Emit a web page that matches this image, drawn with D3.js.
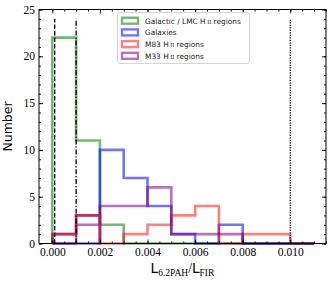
<!DOCTYPE html>
<meta charset="utf-8">
<script src="https://d3js.org/d3.v7.min.js"></script>
<style>
  body { margin: 0; background: #fff; }
  svg text { fill: #000; }
</style>
<div id="my_dataviz"></div>
<script>

// bin edges of the histograms
var binEdges = [0, 0.001, 0.002, 0.003, 0.004, 0.005, 0.006, 0.007, 0.008, 0.009, 0.010, 0.011];

// counts per bin
var galacticCounts = [22, 11, 2, 0, 0, 0, 0, 0, 0, 0, 0];
var galaxyCounts   = [0, 0, 10, 7, 4, 1, 0, 2, 0, 0, 0];
var m83Counts      = [1, 3, 0, 1, 2, 3, 4, 0, 1, 1, 0];
var m33Counts      = [0, 2, 4, 4, 6, 1, 1, 1, 0, 0, 0];
// darker overlap seen in the first two bins
var overlapEdges   = [0, 0.001, 0.002];
var overlapCounts  = [1, 3];

var seriesNames  = ["Galactic / LMC H", "Galaxies", "M83 H", "M33 H"];
var seriesSuffix = [" regions", "", " regions", " regions"];
var seriesRoman  = [true, false, true, true];

// vertical reference lines
var refLines = [0.0001, 0.001, 0.010];
var refTop = 24;

var xTicks = [0, 0.002, 0.004, 0.006, 0.008, 0.010];
var yTicks = [0, 5, 10, 15, 20, 25];

var margin = {top: 9.5, right: 8, bottom: 39.5, left: 39},
  width = 334 - margin.left - margin.right,
  height = 283 - margin.top - margin.bottom;

var svg = d3.select("#my_dataviz")
  .append("svg")
    .attr("width", 334)
    .attr("height", 283)
  .append("g")
    .attr("transform", "translate(" + margin.left + "," + margin.top + ")");

var x = d3.scaleLinear().domain([-0.00056, 0.0115]).range([0, width]);
var y = d3.scaleLinear().domain([0, 25]).range([height, 0]);

var series = [
  {edges: binEdges, counts: galacticCounts, color: "green",  op: 0.55},
  {edges: binEdges, counts: galaxyCounts,   color: "blue",   op: 0.55},
  {edges: binEdges, counts: m83Counts,      color: "red",    op: 0.5},
  {edges: binEdges, counts: m33Counts,      color: "purple", op: 0.55},
  {edges: overlapEdges, counts: overlapCounts, color: "#b01d5c", op: 0.8}
];

function stepPoints(edges, counts) {
  var pts = [[edges[0], 0]];
  counts.forEach(function(c, i) {
    pts.push([edges[i], c]);
    pts.push([edges[i + 1], c]);
  });
  pts.push([edges[edges.length - 1], 0]);
  return pts;
}

var line = d3.line()
  .x(function(d) { return x(d[0]); })
  .y(function(d) { return y(d[1]); });

series.forEach(function(s) {
  svg.append("path")
    .datum(stepPoints(s.edges, s.counts))
    .attr("fill", "none")
    .attr("stroke", s.color)
    .attr("stroke-opacity", s.op)
    .attr("stroke-width", 2.6)
    .attr("stroke-linejoin", "miter")
    .attr("d", line);
});

// reference lines
var dashes = ["4.5,2", "5,1.8,1.3,1.8", "1.3,1.2"];
refLines.forEach(function(v, i) {
  svg.append("line")
    .attr("x1", x(v)).attr("x2", x(v))
    .attr("y1", y(0)).attr("y2", y(refTop))
    .attr("stroke", "black")
    .attr("stroke-width", 1.3)
    .attr("stroke-dasharray", dashes[i]);
});

// axes with inward ticks on all sides
var xMinor = d3.range(0, 0.01151, 0.0005);
var yMinor = d3.range(0, 25.1, 1);

function styleAxis(g) {
  g.select(".domain").remove();
  g.selectAll("line").attr("stroke", "#000").attr("stroke-width", 0.9);
}

svg.append("g")
  .attr("transform", "translate(0," + height + ")")
  .call(d3.axisBottom(x).tickValues(xMinor).tickFormat("").tickSize(-2))
  .call(styleAxis);
svg.append("g")
  .attr("transform", "translate(0," + height + ")")
  .call(d3.axisBottom(x).tickValues(xTicks).tickFormat(d3.format(".3f")).tickSize(-4).tickPadding(4))
  .call(styleAxis)
  .selectAll("text")
    .style("font-family", "'Liberation Serif', serif")
    .style("font-size", "11.5px");
svg.append("g")
  .call(d3.axisTop(x).tickValues(xMinor).tickFormat("").tickSize(-2))
  .call(styleAxis);
svg.append("g")
  .call(d3.axisTop(x).tickValues(xTicks).tickFormat("").tickSize(-4))
  .call(styleAxis);

svg.append("g")
  .call(d3.axisLeft(y).tickValues(yMinor).tickFormat("").tickSize(-2))
  .call(styleAxis);
svg.append("g")
  .call(d3.axisLeft(y).tickValues(yTicks).tickSize(-4).tickPadding(4))
  .call(styleAxis)
  .selectAll("text")
    .style("font-family", "'Liberation Serif', serif")
    .style("font-size", "11.5px");
svg.append("g")
  .attr("transform", "translate(" + width + ",0)")
  .call(d3.axisRight(y).tickValues(yMinor).tickFormat("").tickSize(-2))
  .call(styleAxis);
svg.append("g")
  .attr("transform", "translate(" + width + ",0)")
  .call(d3.axisRight(y).tickValues(yTicks).tickFormat("").tickSize(-4))
  .call(styleAxis);

// frame
svg.append("rect")
  .attr("width", width).attr("height", height)
  .attr("fill", "none").attr("stroke", "#000").attr("stroke-width", 1);

// y label
svg.append("text")
  .attr("transform", "translate(" + (-27) + "," + (height / 2) + ") rotate(-90)")
  .attr("text-anchor", "middle")
  .style("font-family", "'DejaVu Sans', sans-serif")
  .style("font-size", "12.5px")
  .text("Number");

// x label
var xl = svg.append("text")
  .attr("x", width / 2)
  .attr("y", height + 29)
  .attr("text-anchor", "middle")
  .style("font-family", "'DejaVu Sans', sans-serif")
  .style("font-size", "13.5px");
xl.append("tspan").text("L");
xl.append("tspan").attr("dy", 3).style("font-family", "'Liberation Serif', serif").style("font-size", "9.5px").text("6.2PAH");
xl.append("tspan").attr("dy", -3).style("font-family", "'Liberation Serif', serif").style("font-size", "14px").text("/");
xl.append("tspan").text("L");
xl.append("tspan").attr("dy", 3).style("font-family", "'Liberation Serif', serif").style("font-size", "9.5px").text("FIR");

// legend
var legend = svg.append("g").attr("transform", "translate(" + (117.5 - margin.left) + "," + (12.5 - margin.top) + ")");
legend.append("rect")
  .attr("width", 132).attr("height", 51)
  .attr("rx", 2.5)
  .attr("fill", "white").attr("fill-opacity", 0.85)
  .attr("stroke", "#d0d0d0").attr("stroke-width", 0.9);

seriesNames.forEach(function(name, i) {
  var s = series[i];
  var row = legend.append("g").attr("transform", "translate(0," + (8.2 + i * 11.7) + ")");
  row.append("rect")
    .attr("x", 4.5).attr("y", -3)
    .attr("width", 16).attr("height", 6)
    .attr("fill", "none")
    .attr("stroke", s.color).attr("stroke-opacity", s.op).attr("stroke-width", 2.4);
  var t = row.append("text")
    .attr("x", 27.5).attr("y", 2.8)
    .style("font-family", "'DejaVu Sans', sans-serif")
    .style("font-size", "7.4px")
    .style("fill", "#222");
  t.append("tspan").text(name);
  if (seriesRoman[i]) {
    t.append("tspan").style("font-family", "'Liberation Serif', serif").style("font-size", "6px").text(" II");
  }
  t.append("tspan").text(seriesSuffix[i]);
});

</script>
